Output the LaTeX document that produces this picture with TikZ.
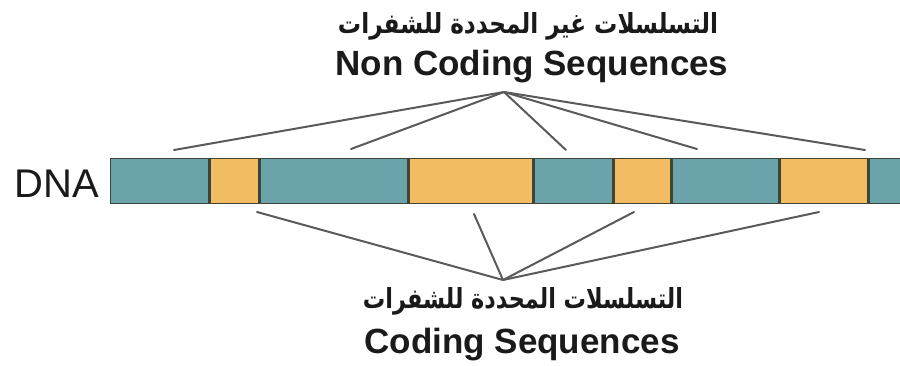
\documentclass[tikz,border=0pt]{standalone}
\usepackage{fontspec}
\usepackage{graphicx}
\setmainfont{Liberation Sans}
\newfontfamily\arabicfont[Script=Arabic]{DejaVu Sans}
\TeXXeTstate=1
\definecolor{segteal}{HTML}{6AA3AA}
\definecolor{segorange}{HTML}{F2BC62}
\definecolor{segedge}{HTML}{3E4536}
\definecolor{conncol}{HTML}{5A5A5A}
\definecolor{txtcol}{HTML}{1A1A1A}
\tikzset{
  seg/.style={draw=segedge, line width=1.2pt, inner sep=0pt, anchor=north west, minimum height=45pt},
  tseg/.style={seg, fill=segteal},
  oseg/.style={seg, fill=segorange},
  divider/.style={segedge, line width=3pt},
  conn/.style={conncol, line width=2pt, line cap=round},
  entxt/.style={inner sep=0pt, anchor=base, text=txtcol, font=\fontsize{35}{40}\selectfont\bfseries},
  artxt/.style={inner sep=0pt, anchor=base, text=txtcol}
}
\begin{document}
\begin{tikzpicture}[x=1pt,y=-1pt]
\useasboundingbox (0,0) rectangle (900,365);
\clip (0,0) rectangle (900,365);
\fill[white] (0,0) rectangle (900,365);
% DNA bar segments
\node[tseg, minimum width=98pt]  (s1) at (110,158) {};
\node[oseg, minimum width=50pt]  (s2) at (208,158) {};
\node[tseg, minimum width=149pt] (s3) at (258,158) {};
\node[oseg, minimum width=125pt] (s4) at (407,158) {};
\node[tseg, minimum width=80pt]  (s5) at (532,158) {};
\node[oseg, minimum width=58pt]  (s6) at (612,158) {};
\node[tseg, minimum width=108pt] (s7) at (670,158) {};
\node[oseg, minimum width=89pt]  (s8) at (778,158) {};
\node[tseg, minimum width=60pt]  (s9) at (867,158) {};
\foreach \a/\b in {s1/s2,s2/s3,s3/s4,s4/s5,s5/s6,s6/s7,s7/s8,s8/s9}
  \draw[divider] (\a.north east) -- (\a.south east);
% label
\node[inner sep=0pt, anchor=base east, text=txtcol, font=\fontsize{40}{44}\selectfont] (dna) at (99,197) {DNA};
% texts
\node[artxt] (nca) at (528,33) {\resizebox{380pt}{21pt}{\arabicfont\bfseries\beginR التسلسلات غير المحددة للشفرات\endR}};
\node[entxt] (nc) at (532,75) {Non Coding Sequences};
\node[artxt] (csa) at (523,308) {\resizebox{320pt}{21pt}{\arabicfont\bfseries\beginR التسلسلات المحددة للشفرات\endR}};
\node[entxt] (cs) at (522,353) {Coding Sequences};
% convergence points and line ends
\coordinate (topc) at (504,92);
\coordinate (botc) at (503,280);
\coordinate (t1) at (174,150);
\coordinate (t2) at (351,149);
\coordinate (t3) at (566,150);
\coordinate (t4) at (697,149);
\coordinate (t5) at (865,150);
\coordinate (b1) at (257,212);
\coordinate (b2) at (474,214);
\coordinate (b3) at (634,212);
\coordinate (b4) at (819,212);
\foreach \p in {t1,t2,t3,t4,t5} \draw[conn] (topc) -- (\p);
\foreach \p in {b1,b2,b3,b4} \draw[conn] (botc) -- (\p);
\end{tikzpicture}
\end{document}
